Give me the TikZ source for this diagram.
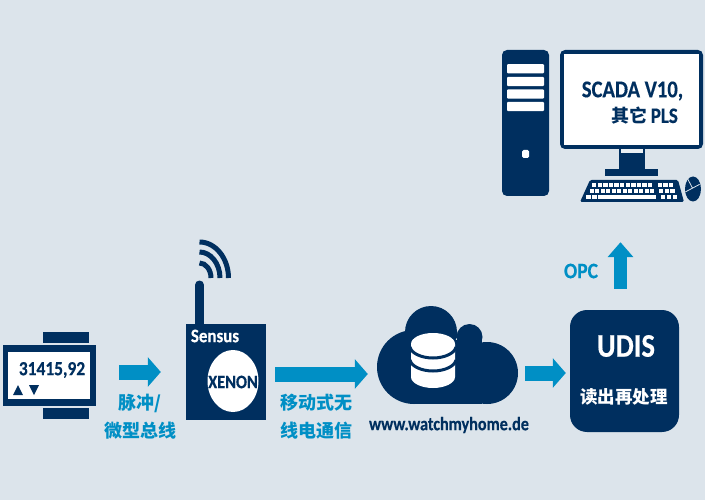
\documentclass[tikz,border=0pt]{standalone}
\usepackage{graphicx}
\usepackage{fontspec}
\setmainfont{Carlito}[BoldFeatures={FakeBold=0.4}]
\newfontfamily\cjk{Noto Sans CJK SC}
\usetikzlibrary{arrows.meta,shapes.geometric}
\definecolor{bgc}{RGB}{220,228,235}
\definecolor{navy}{RGB}{0,47,95}
\definecolor{flowc}{RGB}{0,143,197}
\tikzset{
  solidnavy/.style={fill=navy,draw=none,inner sep=0pt},
  whitefill/.style={fill=white,draw=none,inner sep=0pt},
  txt/.style={inner sep=0pt,font=\bfseries},
  flowarrow/.style={draw=flowc,line width=15pt,-{Triangle[length=13pt,width=29pt,color=flowc]}},
  bluelabel/.style={txt,text=flowc},
  wave/.style={draw=navy,line width=5pt,fill=none},
  dbline/.style={draw=navy,line width=3pt,fill=none}
}
\newcommand{\fs}[1]{\fontsize{#1}{#1}\selectfont}
\newcommand{\nar}[2]{\scalebox{#1}[1]{#2}}
\begin{document}
\begin{tikzpicture}[x=1pt,y=-1pt]
\useasboundingbox (0,0) rectangle (705,500);
\fill[bgc] (0,0) rectangle (705,500);
% tower
\node[solidnavy,rounded corners=5pt,minimum width=47pt,minimum height=146pt] (tower) at (525.5,123) {};
\foreach \yy in {68.7,81.5,94,106.5}
  \fill[white,rounded corners=1pt] (507,\yy-4.6) rectangle (544,\yy+4.6);
\fill[white,rounded corners=1.5pt] (522,150) rectangle (529,158);
% monitor
\node[solidnavy,rounded corners=5pt,minimum width=143pt,minimum height=99pt] (monitor) at (631.5,99.5) {};
\node[whitefill,minimum width=135pt,minimum height=91pt] (screen) at (631.5,99.5) {};
\fill[navy] (619,149) rectangle (645,169);
\fill[bgc!60!white] (621,149) rectangle (643,153);
\fill[navy] (605,169) rectangle (658,176);
\node[txt,text=navy] (scada) at (632.5,91) {\nar{.86}{\fs{24}SCADA V10,}};
\node[txt,text=navy] (pls) at (644.5,116) {\fs{22}{\cjk\fs{18}其它}\,\nar{.86}{PLS}};
% keyboard
\node[inner sep=0pt,minimum width=104pt,minimum height=22pt] (keyboard) at (632,191) {};
\fill[navy,rounded corners=1.5pt] (590,180) -- (678,180) -- (684,202) -- (580,202) -- cycle;
\foreach \i in {0,...,10} \fill[white] (592+\i*5.6,183.2) rectangle ++(4.4,3.8);
\foreach \i in {0,1,2} \fill[white] (658+\i*5.4,183.2) rectangle ++(4.2,3.8);
\foreach \i in {0,...,11} \fill[white] (589.5+\i*5.5,189) rectangle ++(4.4,4);
\foreach \i in {0,1,2} \fill[white] (659+\i*5.6,189) rectangle ++(4.4,4);
\foreach \i in {0,1} \fill[white] (586+\i*6,195) rectangle ++(4.6,4);
\fill[white] (598,195) rectangle (656,199);
\foreach \i in {0,1,2} \fill[white] (660.5+\i*6,195) rectangle ++(4.8,4);
% mouse
\begin{scope}[shift={(693,189)},rotate=28]
  \node[ellipse,solidnavy,minimum width=16pt,minimum height=25pt] (mouse) at (0,0) {};
  \draw[bgc,line width=.8pt] (-8,-1) -- (8,-1);
  \draw[bgc,line width=.8pt] (0,-1) -- (0,-12.5);
\end{scope}
% meter
\fill[navy] (43,332) rectangle (89,343);
\fill[navy] (43,408) rectangle (89,419);
\node[solidnavy,minimum width=93pt,minimum height=61pt] (meter) at (49.5,375.5) {};
\node[whitefill,minimum width=82pt,minimum height=47pt] (meterscreen) at (49,375.5) {};
\node[txt,text=navy] (reading) at (52,370) {\nar{.87}{\fs{20}31415,92}};
\fill[navy] (13,395) -- (23,395) -- (18,385) -- cycle;
\fill[navy] (29,385) -- (39,385) -- (34,395) -- cycle;
% sensus
\draw[navy,line width=9pt,line cap=round] (199.5,285) -- (199.5,330);
\foreach \rx/\ry in {29/36,20.5/26,11.5/15}
  \draw[wave] (199.5,278-\ry) .. controls (199.5+.55*\rx,278-\ry) and (199.5+\rx,278-.55*\ry) .. (199.5+\rx,278);
\node[solidnavy,minimum width=80pt,minimum height=96pt] (sensus) at (226,372) {};
\node[txt,text=white] (sensuslabel) at (215,336) {\nar{.89}{\fs{19}Sensus}};
\node[ellipse,whitefill,minimum width=51pt,minimum height=62pt] (xenoncircle) at (233,381) {};
\node[txt,text=navy] (xenon) at (233,382) {\nar{.86}{\fs{19}XENON}};
% cloud
\node[inner sep=0pt,minimum width=140pt,minimum height=98pt] (cloud) at (447,355) {};
\fill[navy] (414,367) circle[radius=37] (431,332) circle[radius=26] (469.5,337) circle[radius=13] (487,373) circle[radius=31];
\fill[navy] (414,340) rectangle (482,404);
% database
\fill[white] (411,344) -- (411,377) .. controls (411,383) and (421,388) .. (433,388) .. controls (445,388) and (455,383) .. (455,377) -- (455,344) -- cycle;
\node[ellipse,whitefill,minimum width=44pt,minimum height=22pt] (dbtop) at (433,344) {};
\draw[dbline] (410,347) .. controls (411,353) and (421,358) .. (433,358) .. controls (445,358) and (455,353) .. (456,347);
\draw[dbline] (410,360) .. controls (411,366) and (421,371) .. (433,371) .. controls (445,371) and (455,366) .. (456,360);
\node[txt,text=navy] (url) at (449,425) {\nar{.85}{\fs{19}www.watchmyhome.de}};
% udis
\node[solidnavy,rounded corners=17pt,minimum width=109pt,minimum height=122pt] (udis) at (624.5,371) {};
\node[txt,text=white] (udistitle) at (626,346) {\nar{.87}{\fs{33}UDIS}};
\node[txt,text=white] (udissub) at (624,397) {\cjk\fs{17.5}读出再处理};
% labels
\node[bluelabel] (pulse) at (140,403) {\cjk\fs{18}脉冲/};
\node[bluelabel] (mbus) at (140,431) {\cjk\fs{18}微型总线};
\node[bluelabel] (mobile1) at (316,403) {\cjk\fs{18}移动式无};
\node[bluelabel] (mobile2) at (316,431) {\cjk\fs{18}线电通信};
\node[bluelabel] (opc) at (581,271) {\nar{.89}{\fs{22}OPC}};
% connectors
\coordinate (lvltwo) at (0,374);
\coordinate (lvlthree) at (0,373);
\coordinate (opcx) at (620.5,0);
\draw[flowarrow,shorten <=23pt,shorten >=25pt] (meter.east |- sensus.west) -- (sensus.west);
\draw[flowarrow,shorten <=9pt,shorten >=9pt] (sensus.east |- lvltwo) -- (cloud.west |- lvltwo);
\draw[flowarrow,shorten <=8pt,shorten >=4pt] (cloud.east |- lvlthree) -- (udis.west |- lvlthree);
\draw[flowarrow,line width=13pt,-{Triangle[length=15pt,width=25pt,color=flowc]},shorten <=21pt,shorten >=40pt] (opcx |- udis.north) -- (opcx |- keyboard.south);
\end{tikzpicture}
\end{document}
